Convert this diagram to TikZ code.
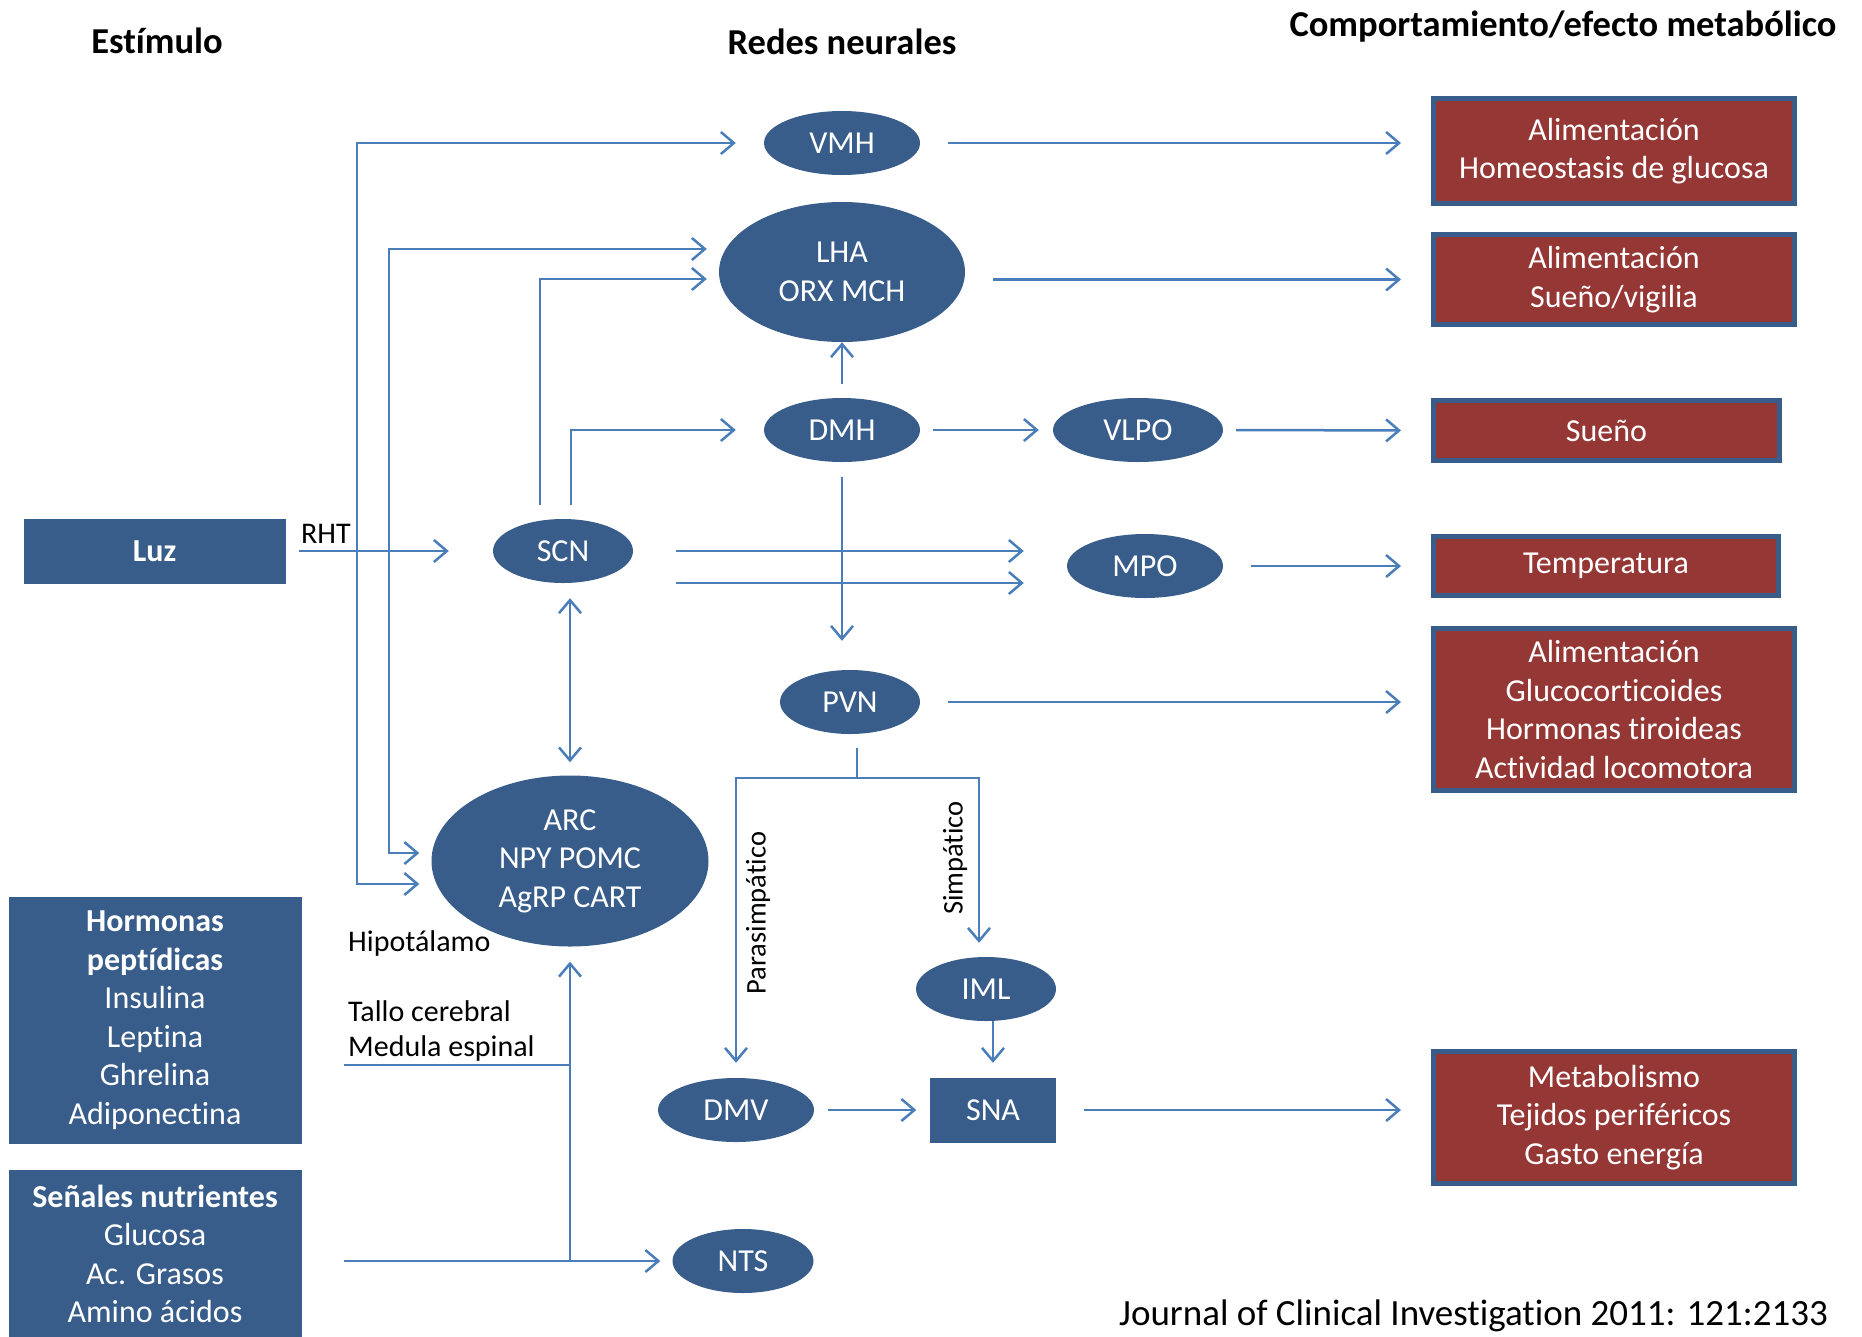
\documentclass[tikz,border=0pt]{standalone}
\usepackage{fontspec}
\setmainfont{Carlito}[Ligatures={NoCommon}]
\usepackage{tikz}
\usetikzlibrary{arrows.meta,shapes.geometric}
\definecolor{nodeblue}{HTML}{385D8A}
\definecolor{effectred}{HTML}{953735}
\definecolor{linkblue}{HTML}{4A7EBB}
\newcommand{\bodyfont}{\fontsize{32}{38.5}\selectfont}
\newcommand{\labelfont}{\fontsize{30}{35}\selectfont}
\newcommand{\headfont}{\fontsize{36.5}{42}\selectfont\bfseries}
\tikzset{
    Nucleus/.style = {ellipse,fill=nodeblue,text=white,inner sep=0pt,
        minimum width=156pt,minimum height=64pt,font=\bodyfont},
    Stimulus/.style = {rectangle,fill=nodeblue,draw=nodeblue,text=white,
        inner sep=0pt,align=center,minimum width=292pt,font=\bodyfont},
    Effect/.style = {rectangle,fill=effectred,draw=nodeblue,line width=5pt,
        text=white,inner sep=0pt,align=center,minimum width=361pt,font=\bodyfont},
    Label/.style = {inner sep=0pt,align=left,font=\labelfont},
    Head/.style = {inner sep=0pt,font=\headfont},
    link/.style = {draw=linkblue,line width=2.5pt,->}
}

\begin{document}
\begin{tikzpicture}[x=1pt,y=-1pt,>={Straight Barb[length=13pt,width=22pt]}]
\useasboundingbox (0,0) rectangle (1862,1336);
% column heads
\node[Head] (h1) at (157,41) {Estímulo};
\node[Head] (h2) at (842,42) {Redes neurales};
\node[Head] (h3) at (1563,27) {Comportamiento/efecto metabólico};
% stimuli
\node[Stimulus,minimum width=261pt,minimum height=64pt,font=\bodyfont\bfseries] (Luz) at (154.5,551) {Luz};
\node[Stimulus,minimum height=246pt] (Horm) at (155,1020)
    {\textbf{Hormonas}\\\textbf{peptídicas}\\Insulina\\Leptina\\Ghrelina\\Adiponectina};
\node[Stimulus,minimum height=168pt] (Nutr) at (155,1254)
    {\textbf{Señales nutrientes}\\Glucosa\\Ac. Grasos\\Amino ácidos};
% neural networks
\node[Nucleus] (VMH) at (842,143) {VMH};
\node[Nucleus,align=center,minimum width=246pt,minimum height=140pt] (LHA) at (842,272) {LHA\\ORX MCH};
\node[Nucleus] (DMH) at (842,430) {DMH};
\node[Nucleus,minimum width=170pt] (VLPO) at (1138,430) {VLPO};
\node[Nucleus,minimum width=140pt] (SCN) at (563,551) {SCN};
\node[Nucleus] (MPO) at (1145,566) {MPO};
\node[Nucleus,minimum width=140pt] (PVN) at (850,702) {PVN};
\node[Nucleus,align=center,minimum width=277pt,minimum height=171pt] (ARC) at (570,861)
    {ARC\\NPY POMC\\AgRP CART};
\node[Nucleus,minimum width=140pt] (IML) at (986,989) {IML};
\node[Nucleus] (DMV) at (736,1110) {DMV};
\node[Stimulus,minimum width=125pt,minimum height=64pt] (SNA) at (993,1110) {SNA};
\node[Nucleus,minimum width=141pt] (NTS) at (743,1261) {NTS};
% effects
\node[Effect,minimum height=105pt] (E1) at (1614,151) {Alimentación\\Homeostasis de glucosa};
\node[Effect,minimum height=90pt] (E2) at (1614,279.5) {Alimentación\\Sueño/vigilia};
\node[Effect,minimum width=346pt,minimum height=60pt] (E3) at (1606.5,430.5) {Sueño};
\node[Effect,minimum width=345pt,minimum height=59pt] (E4) at (1606,566) {Temperatura};
\node[Effect,minimum height=162pt] (E5) at (1614,709.5)
    {Alimentación\\Glucocorticoides\\Hormonas tiroideas\\Actividad locomotora};
\node[Effect,minimum height=132pt] (E6) at (1614,1117.5)
    {Metabolismo\\Tejidos periféricos\\Gasto energía};
% labels
\node[Label] (RHT) at (326,534) {RHT};
\node[Label,anchor=west] (hipo) at (348,943) {Hipotálamo};
\node[Label,anchor=west] (tallo) at (348,1031) {Tallo cerebral\\Medula espinal};
\node[Label,rotate=90,font=\fontsize{28.5}{34}\selectfont] (para) at (758,913) {Parasimpático};
\node[Label,rotate=90,font=\fontsize{28.5}{34}\selectfont] (simp) at (955,858) {Simpático};
\node[Label,anchor=base west,font=\fontsize{37}{42}\selectfont] (ref) at (1119,1325)
    {Journal of Clinical Investigation 2011: 121:2133};
% connectors
\foreach \a/\b in {VMH/E1,MPO/E4,PVN/E5,SNA/E6}
    {\draw[link,shorten <=28pt,shorten >=30pt] (\a.east) -- (\a.east -| \b.west);}
\draw[link,shorten <=28pt,shorten >=30pt] (LHA.east |- E2.west) -- (E2.west);
\draw[link,shorten <=13pt,shorten >=30pt] (VLPO.east) -- (E3.west);
\draw[link,<->,shorten <=28pt,shorten >=12pt] (VMH.west) -| (357,884) -- (ARC.west |- 0,884);
\draw[link,<->,shorten <=12pt,shorten >=12pt] (LHA.west |- 0,249) -| (389,853) -- (ARC.west |- 0,853);
\draw[link,shorten <=14pt,shorten >=12pt] ([xshift=-23pt]SCN.north) |- (LHA.west |- 0,279);
\draw[link,shorten <=14pt,shorten >=28pt] ([xshift=8pt]SCN.north) |- (DMH.west);
\foreach \s in {0,-32}
    {\draw[link,shorten <=43pt,shorten >=43pt] ([yshift=\s pt]SCN.east) -- ([yshift=\s pt]SCN.east -| MPO.west);}
\draw[link,shorten <=14pt,shorten >=44pt] (Luz) -- (SCN);
\draw[link,<->,shorten <=15pt,shorten >=13pt] (SCN.south -| ARC.north) -- (ARC.north);
\draw[link,shorten <=14pt] (DMH) -- (LHA);
\draw[link,shorten <=13pt,shorten >=14pt] (DMH) -- (VLPO);
\draw[link,shorten <=15pt,shorten >=29pt] (DMH.south) -- (DMH.south |- PVN.north);
\draw[link,-] ([xshift=7pt,yshift=-14pt]PVN.south) -- ++(0,30) coordinate (fork);
\draw[link,shorten >=15pt] (fork) -| (DMV.north);
\draw[link,shorten >=14pt] (fork) -| ([xshift=-7pt]IML.north);
\draw[link,shorten >=15pt] (IML.south -| SNA.north) -- (SNA.north);
\draw[link,shorten <=14pt,shorten >=14pt] (DMV) -- (SNA);
\draw[link,shorten <=43pt,shorten >=12pt] (Nutr.east |- NTS.west) -- (NTS.west);
\draw[link,shorten >=15pt] (ARC.south |- NTS.west) -- (ARC.south);
\draw[link,-,shorten <=43pt] (Horm.east |- 0,1065) -- (ARC.south |- 0,1065);
\end{tikzpicture}
\end{document}
